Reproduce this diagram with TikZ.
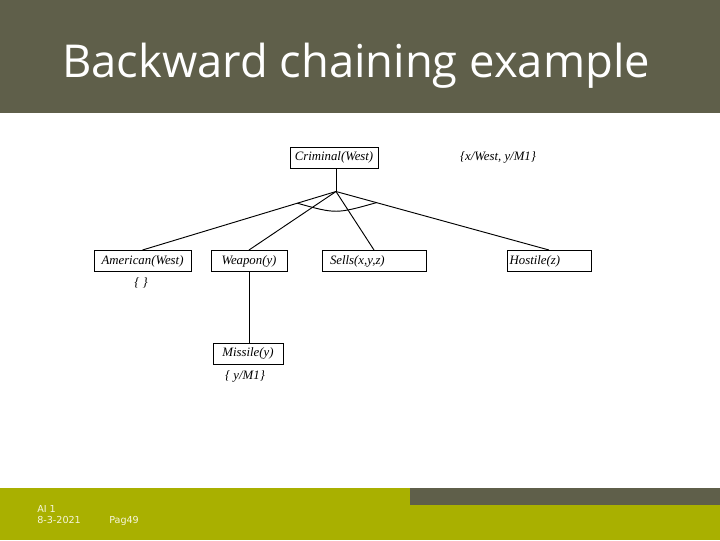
\documentclass[tikz,border=0pt]{standalone}
\usepackage{fontspec}
\setmainfont{Liberation Serif}
\newfontfamily\titlefont{Open Sans}
\newfontfamily\footfont{DejaVu Sans}
\usepackage{xcolor}
\usepackage{tikz}
\usetikzlibrary{positioning,calc}
\definecolor{headgray}{HTML}{5F5F4A}
\definecolor{footgreen}{HTML}{A9B000}
\definecolor{foottext}{HTML}{F6F6DC}

\begin{document}
\begin{tikzpicture}[
    x=0.75pt, y=-0.75pt,
    box/.style={rectangle, draw, line width=0.75pt, minimum height=15.75pt, inner sep=2pt, font=\itshape\fontsize{9.6}{10}\selectfont},
    lbox/.style={box, align=left},
    link/.style={line width=0.7pt},
    subst/.style={font=\itshape\fontsize{9.6}{10}\selectfont},
    foot/.style={text=foottext, anchor=base west, inner sep=0pt, font=\footfont\fontsize{7.2}{8}\selectfont}
]
    \useasboundingbox (0,0) rectangle (720,540);

    % Title bar
    \fill[headgray] (0,0) rectangle (720,113);
    \node[text=white, anchor=base, font=\titlefont\fontsize{34}{38}\selectfont] (title) at (356,77) {Backward chaining example};

    % Footer
    \fill[footgreen] (0,488) rectangle (720,540);
    \fill[headgray] (410,488) rectangle (720,505);
    \node[foot] (course) at (37,512) {AI 1};
    \node[foot] (date) at (37,523) {8-3-2021};
    \node[foot] (page) at (109,523) {Pag49};

    % Goal
    \node[box, minimum width=66pt] (criminal) at (334,157.5) {Criminal(West)};
    \node[subst] (theta) at (498,157) {\{x/West, y/M1\}};

    % Subgoals
    \node[box, minimum width=72.75pt] (american) at (142.5,261) {American(West)};
    \node[box, minimum width=57pt] (weapon) at (249,261) {Weapon(y)};
    \node[lbox, inner xsep=6pt, text width=66pt] (sells) at (374,261) {Sells(x,y,z)};
    \node[lbox, text width=59pt] (hostile) at (549,261) {Hostile(z)};
    \node[box, minimum width=52.5pt] (missile) at (248,353.5) {Missile(y)};

    % Substitutions
    \node[subst] (emptyset) at (141,283) {\{ \}};
    \node[subst] (ysubst) at (245,376) {\{ y/M1\}};

    % And-branch
    \coordinate (join) at ($(criminal.south)+(2,23)$);
    \draw[link] (criminal.south -| join) -- (join);
    \draw[link] (join) -- (american.north);
    \draw[link] (join) -- (weapon.north);
    \draw[link] (join) -- (sells.north);
    \draw[link] (join) -- (hostile.north);
    \coordinate (arcL) at ($(join)!0.2!(american.north)$);
    \coordinate (arcR) at ($(join)!0.19!(hostile.north)$);
    \draw[link] (arcL) .. controls ($(join)+(0,22.5)$) .. (arcR);

    \draw[link] (weapon.south) -- (weapon.south |- missile.north);
\end{tikzpicture}
\end{document}
